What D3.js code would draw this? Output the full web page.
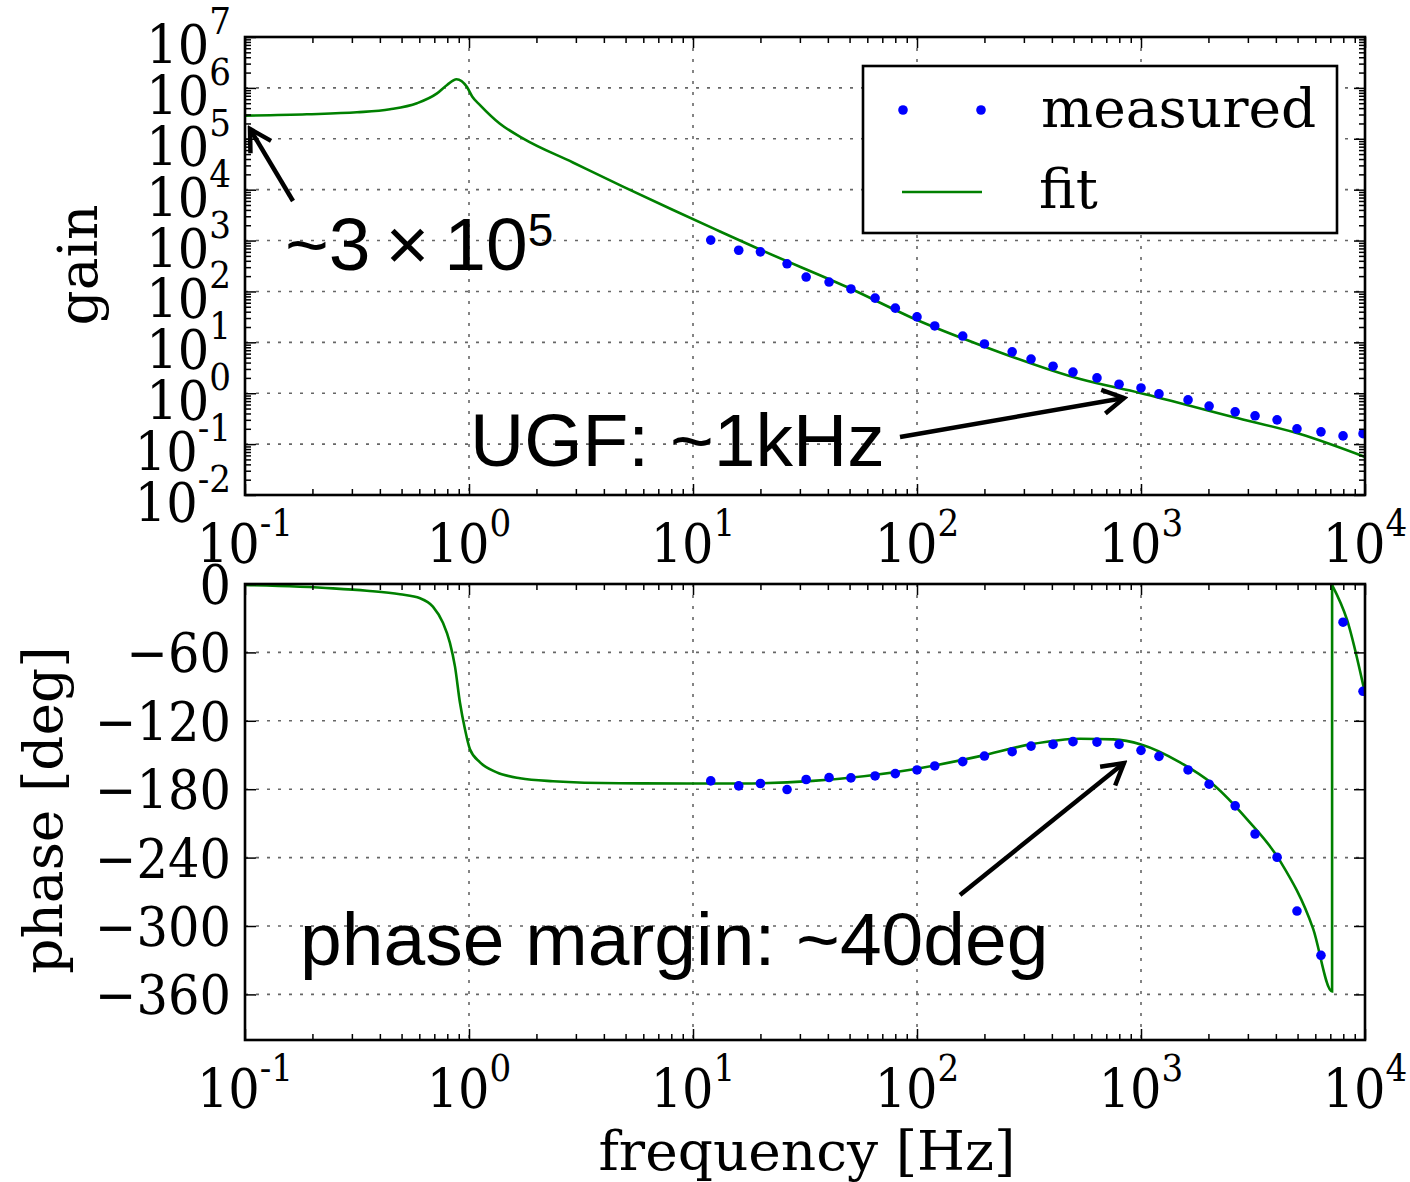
<!DOCTYPE html>
<html>
<head>
<meta charset="utf-8">
<script src="https://cdn.jsdelivr.net/npm/d3@7"></script>
<style>
body { margin: 0; background: #fff; }
svg { display: block; }
.tick-label { font-family: 'DejaVu Serif Condensed', 'DejaVu Serif', serif; font-stretch: condensed; font-size: 55px; fill: #000; }
.ax-label { font-family: 'DejaVu Serif', serif; font-size: 55px; fill: #000; }
.note { font-family: 'Liberation Sans', Arial, sans-serif; font-size: 75px; fill: #000; }
</style>
</head>
<body>
<svg id="chart" width="1410" height="1182"></svg>
<script>
// measured transfer function
const measFreq = [12, 16, 20, 26.3, 32, 40.5, 50.7, 65, 80, 100, 120, 160, 200, 266, 323, 405, 497, 636, 798, 1000,
                  1203, 1622, 2014, 2633, 3230, 4050, 4970, 6360, 7980, 9800];
const measGain = [1020, 645, 600, 349, 192, 153, 112, 74, 47, 31.6, 21, 13.3, 9.3, 6.5, 4.7, 3.4, 2.6, 2.0, 1.5, 1.27,
                  0.97, 0.74, 0.56, 0.43, 0.36, 0.30, 0.20, 0.174, 0.145, 0.16];
const measPhase = [-172.7, -177.1, -175.0, -180.3, -171.5, -169.8, -170.1, -168.4, -166.3, -163.1, -159.6, -155.8,
                   -150.9, -147.1, -142.2, -140.7, -138.3, -138.7, -140.7, -145.9, -151.2, -163.1, -175.6, -194.6,
                   -219.3, -239.7, -286.9, -325.7, -33.5, -94.1];

// fitted model
const fitGainFreq = [0.1, 0.189, 0.316, 0.444, 0.586, 0.72, 0.798, 0.88, 0.978, 1.035, 1.12, 1.37, 1.74, 2.91, 4.87,
                     8.15, 13.2, 19.9, 48.7, 100, 191, 535, 991, 2577, 5130, 10000];
const fitGain = [2.85e5, 3.03e5, 3.31e5, 3.8e5, 5.0e5, 7.8e5, 1.14e6, 1.48e6, 1.05e6, 6.7e5, 4.6e5, 2.0e5, 1.02e5,
                 3.42e4, 1.15e4, 3.98e3, 1.51e3, 667, 122, 27.5, 8.9, 1.9, 1.01, 0.34, 0.158, 0.056];
const fitPhaseFreq = [0.1, 0.247, 0.35, 0.492, 0.605, 0.69, 0.765, 0.822, 0.866, 0.911, 0.96, 1.01, 1.12, 1.33, 1.69,
                      2.37, 4.72, 9.4, 16.2, 34.3, 100, 191, 319, 535, 750, 1000, 1493, 2094, 2970, 4177, 5865,
                      7130, 7131, 8318, 10000];
const fitPhase = [-0.9, -3.8, -5.9, -9, -12.5, -19.8, -34, -51.6, -72.5, -104, -127.6, -145, -156.4, -165.2, -170.4,
                  -173, -174.8, -175, -175, -172.7, -162, -151, -140.7, -135.7, -136.3, -140.7, -156.4, -175.6, -206.2,
                  -242.9, -302.3, -357.4, -0.9, -31.5, -96];

const freqTicks = [0.1, 1, 10, 100, 1000, 10000];
const freqExp = ["-1", "0", "1", "2", "3", "4"];
const gainTicks = [1e-2, 1e-1, 1, 10, 100, 1e3, 1e4, 1e5, 1e6, 1e7];
const gainExp = ["-2", "-1", "0", "1", "2", "3", "4", "5", "6", "7"];
const phaseTicks = [0, -60, -120, -180, -240, -300, -360];
const phaseTickLabels = ["0", "\u221260", "\u2212120", "\u2212180", "\u2212240", "\u2212300", "\u2212360"];

const legendLabels = ["measured", "fit"];

var left = 245, right = 1365;
var gainTop = 37, gainBottom = 495;
var phaseTop = 584, phaseBottom = 1040;

var x = d3.scaleLog().domain([0.1, 1e4]).range([left, right]);
var yGain = d3.scaleLog().domain([1e-2, 1e7]).range([gainBottom, gainTop]);
var yPhase = d3.scaleLinear().domain([-400, 0]).range([phaseBottom, phaseTop]);

function minorLog(lo, hi) {
    var out = [];
    for (var e = lo; e < hi; e++)
        for (var m = 2; m <= 9; m++) out.push(m * Math.pow(10, e));
    return out;
}

var svg = d3.select("#chart");
svg.append("rect").attr("width", 1410).attr("height", 1182).attr("fill", "#fff");

var defs = svg.append("defs");
defs.append("clipPath").attr("id", "clipGain").append("rect")
    .attr("x", left).attr("y", gainTop).attr("width", right - left).attr("height", gainBottom - gainTop);
defs.append("clipPath").attr("id", "clipPhase").append("rect")
    .attr("x", left).attr("y", phaseTop).attr("width", right - left).attr("height", phaseBottom - phaseTop);
defs.append("marker").attr("id", "arrow")
    .attr("markerUnits", "userSpaceOnUse").attr("orient", "auto")
    .attr("viewBox", "-26 -16 30 32").attr("refX", 0).attr("refY", 0)
    .attr("markerWidth", 30).attr("markerHeight", 32)
    .append("path").attr("d", "M-21,-12L0,0L-21,12")
    .attr("fill", "none").attr("stroke", "#000").attr("stroke-width", 4.5);

function grid(g, xs, ys, yScale, top, bottom) {
    xs.forEach(v => g.append("line")
        .attr("x1", x(v)).attr("x2", x(v)).attr("y1", top).attr("y2", bottom));
    ys.forEach(v => g.append("line")
        .attr("x1", left).attr("x2", right).attr("y1", yScale(v)).attr("y2", yScale(v)));
    g.selectAll("line").attr("stroke", "#666").attr("stroke-width", 1.6).attr("stroke-dasharray", "3,8");
}

function ticks(g, axisFn, scale, values, size, transform) {
    var a = axisFn(scale).tickValues(values).tickSizeInner(-size).tickSizeOuter(0).tickFormat("");
    var sel = g.append("g").attr("transform", transform).call(a);
    sel.select(".domain").remove();
    sel.selectAll(".tick line").attr("stroke", "#000").attr("stroke-width", 1.5);
}

function frameTicks(g, yScale, top, bottom, yMajor, yMinor) {
    var xMinor = minorLog(-1, 4);
    [[d3.axisBottom, "translate(0," + bottom + ")"], [d3.axisTop, "translate(0," + top + ")"]].forEach(p => {
        ticks(g, p[0], x, freqTicks, 11, p[1]);
        ticks(g, p[0], x, xMinor, 6, p[1]);
    });
    [[d3.axisLeft, "translate(" + left + ",0)"], [d3.axisRight, "translate(" + right + ",0)"]].forEach(p => {
        ticks(g, p[0], yScale, yMajor, 11, p[1]);
        if (yMinor) ticks(g, p[0], yScale, yMinor, 6, p[1]);
    });
    g.append("rect").attr("x", left).attr("y", top).attr("width", right - left).attr("height", bottom - top)
        .attr("fill", "none").attr("stroke", "#000").attr("stroke-width", 2.6);
}

function powLabel(g, px, py, exp, anchor, supDy) {
    var t = g.append("text").attr("class", "tick-label")
        .attr("x", px).attr("y", py).attr("text-anchor", anchor);
    t.append("tspan").text("10");
    t.append("tspan").attr("dy", supDy).attr("font-size", 38).text(exp);
}

var lineGen = (yScale) => d3.line().x(d => x(d[0])).y(d => yScale(d[1])).curve(d3.curveMonotoneX);

// ---------- gain panel ----------
var gp = svg.append("g");
grid(gp.append("g"), freqTicks.slice(1, -1), gainTicks.slice(1, -1), yGain, gainTop, gainBottom);

var gainFit = fitGainFreq.map((f, i) => [f, fitGain[i]]);
gp.append("path").attr("clip-path", "url(#clipGain)")
    .attr("d", lineGen(yGain)(gainFit))
    .attr("fill", "none").attr("stroke", "#008000").attr("stroke-width", 2.6);

gp.append("g").attr("clip-path", "url(#clipGain)").selectAll("circle")
    .data(measFreq.map((f, i) => [f, measGain[i]])).enter().append("circle")
    .attr("cx", d => x(d[0])).attr("cy", d => yGain(d[1])).attr("r", 4.8).attr("fill", "#0000ff");

frameTicks(gp.append("g"), yGain, gainTop, gainBottom, gainTicks, minorLog(-2, 7));

gainTicks.forEach((v, i) => powLabel(gp, 231, yGain(v) + 27, gainExp[i], "end", -30));
freqTicks.forEach((v, i) => powLabel(gp, x(v), gainBottom + 68, freqExp[i], "middle", -27));

gp.append("text").attr("class", "ax-label").attr("text-anchor", "middle")
    .attr("transform", "translate(97,265) rotate(-90)").text("gain");

// legend
var lg = gp.append("g");
lg.append("rect").attr("x", 863).attr("y", 66).attr("width", 474).attr("height", 167)
    .attr("fill", "#fff").attr("stroke", "#000").attr("stroke-width", 2.6);
[903, 981].forEach(cx => lg.append("circle").attr("cx", cx).attr("cy", 110).attr("r", 4.8).attr("fill", "#0000ff"));
lg.append("line").attr("x1", 902).attr("x2", 982).attr("y1", 192).attr("y2", 192)
    .attr("stroke", "#008000").attr("stroke-width", 2.6);
lg.append("text").attr("class", "ax-label").attr("x", 1041).attr("y", 127).text(legendLabels[0]);
lg.append("text").attr("class", "ax-label").attr("x", 1039).attr("y", 208).text(legendLabels[1]);

// ---------- phase panel ----------
var pp = svg.append("g");
grid(pp.append("g"), freqTicks.slice(1, -1), phaseTicks.slice(1), yPhase, phaseTop, phaseBottom);

var phaseFit = fitPhaseFreq.map((f, i) => [f, fitPhase[i]]);
// split where the phase wraps so the jump stays a straight vertical
var wrap = phaseFit.findIndex((d, i) => i > 0 && d[1] - phaseFit[i - 1][1] > 180);
[phaseFit.slice(0, wrap + 1), phaseFit.slice(wrap)].forEach(seg =>
    pp.append("path").attr("clip-path", "url(#clipPhase)")
        .attr("d", lineGen(yPhase)(seg))
        .attr("fill", "none").attr("stroke", "#008000").attr("stroke-width", 2.6));

pp.append("g").attr("clip-path", "url(#clipPhase)").selectAll("circle")
    .data(measFreq.map((f, i) => [f, measPhase[i]])).enter().append("circle")
    .attr("cx", d => x(d[0])).attr("cy", d => yPhase(d[1])).attr("r", 4.8).attr("fill", "#0000ff");

frameTicks(pp.append("g"), yPhase, phaseTop, phaseBottom, phaseTicks, null);

phaseTicks.forEach((v, i) => pp.append("text").attr("class", "tick-label")
    .attr("x", 231).attr("y", yPhase(v) + 20).attr("text-anchor", "end").text(phaseTickLabels[i]));
freqTicks.forEach((v, i) => powLabel(pp, x(v), phaseBottom + 68, freqExp[i], "middle", -27));

pp.append("text").attr("class", "ax-label").attr("text-anchor", "middle")
    .attr("transform", "translate(62,810) rotate(-90)").text("phase [deg]");
pp.append("text").attr("class", "ax-label").attr("text-anchor", "middle")
    .attr("x", 807).attr("y", 1170).text("frequency [Hz]");

// ---------- annotations ----------
var an = svg.append("g");
function arrow(x1, y1, x2, y2) {
    an.append("line").attr("x1", x1).attr("y1", y1).attr("x2", x2).attr("y2", y2)
        .attr("stroke", "#000").attr("stroke-width", 4.5).attr("marker-end", "url(#arrow)");
}
arrow(293, 201, 250, 129);
arrow(900, 437, 1124, 398);
arrow(960, 895, 1124, 763);

var t1 = an.append("text").attr("class", "note").attr("x", 285).attr("y", 270);
t1.append("tspan").text("~3\u2009\u00d7\u200910");
t1.append("tspan").attr("dy", -24).attr("font-size", 46).text("5");
an.append("text").attr("class", "note").attr("x", 470).attr("y", 466).text("UGF: ~1kHz");
an.append("text").attr("class", "note").attr("x", 300).attr("y", 965).text("phase margin: ~40deg");
</script>
</body>
</html>
